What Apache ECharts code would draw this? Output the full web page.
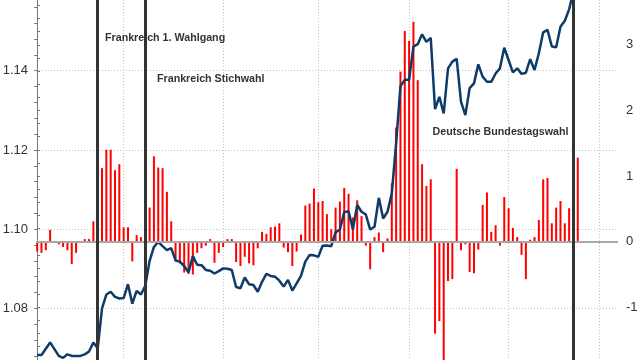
<!DOCTYPE html>
<html><head><meta charset="utf-8">
<script src="https://cdn.jsdelivr.net/npm/echarts@6/dist/echarts.min.js"></script>
<style>html,body{margin:0;padding:0;background:#fff}#c{width:640px;height:360px}</style>
</head><body><div id="c"></div>
<script>
// Trading-day index 0..125
const lineValues = [
 1.0682,1.0682,1.0698,1.0714,1.0697,1.0680,1.0675,1.0684,1.0680,1.0680,
 1.0680,1.0684,1.0691,1.0714,1.0699,1.0800,1.0835,1.0842,1.0829,1.0825,
 1.0826,1.0861,1.0812,1.0844,1.0835,1.0857,1.0920,1.0955,1.0968,1.0957,
 1.0947,1.0952,1.0921,1.0918,1.0907,1.0891,1.0932,1.0910,1.0909,1.0897,
 1.0895,1.0888,1.0894,1.0901,1.0900,1.0897,1.0854,1.0851,1.0878,1.0861,
 1.0859,1.0842,1.0867,1.0887,1.0882,1.0880,1.0870,1.0855,1.0872,1.0845,
 1.0863,1.0882,1.0918,1.0935,1.0934,1.0930,1.0958,1.0959,1.0957,1.0992,
 1.0999,1.1043,1.1045,1.1000,1.1061,1.1044,1.1037,1.0999,1.1006,1.1079,
 1.1027,1.1044,1.1090,1.1217,1.1361,1.1377,1.1377,1.1461,1.1467,1.1492,
 1.1473,1.1483,1.1303,1.1334,1.1292,1.1406,1.1423,1.1430,1.1322,1.1288,
 1.1356,1.1368,1.1416,1.1385,1.1372,1.1372,1.1393,1.1406,1.1458,1.1427,
 1.1396,1.1406,1.1392,1.1395,1.1429,1.1402,1.1444,1.1497,1.1503,1.1461,
 1.1459,1.1511,1.1526,1.1555,1.1600
];
const barValues = [
 -0.15,-0.17,-0.13,0.18,0.01,-0.04,-0.08,-0.13,-0.34,-0.17,
 -0.02,0.04,0.04,0.31,0.30,1.12,1.40,1.40,1.09,1.18,
 0.22,0.22,-0.30,0.10,0.07,0.33,0.52,1.30,1.13,1.12,
 0.76,0.31,-0.28,-0.33,-0.47,-0.49,-0.50,-0.17,-0.10,-0.06,
 0.04,-0.32,-0.17,-0.08,0.04,0.04,-0.31,-0.37,-0.23,-0.33,
 -0.36,-0.10,0.15,0.12,0.22,0.23,0.28,-0.09,-0.16,-0.37,
 -0.15,0.11,0.55,0.58,0.81,0.60,0.62,0.42,0.19,0.52,
 0.61,0.82,0.73,0.37,0.63,0.39,-0.06,-0.42,0.07,0.14,
 -0.16,0.05,0.89,1.74,2.59,3.21,3.06,3.35,2.46,1.18,
 0.85,0.95,-1.40,-1.21,-2.00,-0.60,-0.57,1.11,-0.13,-0.04,
 -0.46,-0.48,-0.12,0.56,0.75,0.15,0.25,-0.06,0.68,0.51,
 0.21,0.07,-0.20,-0.57,0.03,0.07,0.33,0.95,0.97,0.28,
 0.52,0.62,0.28,0.51,0.40,1.28
];
const eventIndex = [14, 25, 124];
const eventNames = ['Frankreich 1. Wahlgang', 'Frankreich Stichwahl', 'Deutsche Bundestagswahl'];
const monthStarts = [20, 43, 65, 86, 109, 130];
const leftMin = 1.06, leftMax = 1.16, leftStep = 0.02;
const rightMin = -2, rightMax = 4, rightStep = 1;

const chart = echarts.init(document.getElementById('c'), null, {renderer: 'canvas'});
const FONT = '"Liberation Sans", Arial, sans-serif';
const X_MIN = -0.266, X_MAX = 134.3;
const axisGray = '#777';

const option = {
  animation: false,
  backgroundColor: '#fff',
  grid: [
    {left: 36, right: 22, top: -8.5, height: 396.1, containLabel: false, outerBoundsMode: 'none'},
    {left: 36, right: 22, top: -20.9, height: 393.9, containLabel: false, outerBoundsMode: 'none'}
  ],
  xAxis: [
    {type: 'value', gridIndex: 0, min: X_MIN, max: X_MAX, show: false},
    {type: 'value', gridIndex: 1, min: X_MIN, max: X_MAX, show: false}
  ],
  yAxis: [
    {
      type: 'value', gridIndex: 0, position: 'left',
      min: leftMin, max: leftMax, interval: leftStep,
      axisLine: {show: true, lineStyle: {color: axisGray, width: 1}},
      axisTick: {show: true, length: 3, lineStyle: {color: axisGray}},
      minorTick: {show: true, splitNumber: 5, length: 3, lineStyle: {color: axisGray}},
      axisLabel: {show: true, formatter: v => v.toFixed(2), color: '#333', fontSize: 13, fontFamily: FONT, margin: 8, showMinLabel: false, showMaxLabel: false},
      splitLine: {show: true, lineStyle: {color: '#c4c4c4', width: 1, type: [1, 2]}},
      minorSplitLine: {show: false}
    },
    {
      type: 'value', gridIndex: 1, position: 'right',
      min: rightMin, max: rightMax, interval: rightStep,
      axisLine: {show: true, lineStyle: {color: axisGray, width: 1}},
      axisTick: {show: true, length: 3, lineStyle: {color: axisGray}},
      minorTick: {show: true, splitNumber: 5, length: 3, lineStyle: {color: axisGray}},
      axisLabel: {show: true, color: '#333', fontSize: 13, fontFamily: FONT, margin: 8, showMinLabel: false, showMaxLabel: false},
      splitLine: {show: false}
    }
  ],
  series: [
    {
      // vertical month gridlines, drawn beneath the bars
      type: 'line', xAxisIndex: 1, yAxisIndex: 1, data: [], z: 0, silent: true,
      markLine: {
        z: 0, silent: true, symbol: 'none', label: {show: false},
        lineStyle: {color: '#c4c4c4', width: 1, type: [1, 2]},
        data: monthStarts.map(m => ({xAxis: m}))
      }
    },
    {
      type: 'bar', xAxisIndex: 1, yAxisIndex: 1,
      data: barValues.map((v, i) => [i, v]),
      barWidth: 2,
      itemStyle: {color: '#ff0000'},
      z: 2,
      silent: true,
      markLine: {
        silent: true, symbol: 'none', label: {show: false},
        lineStyle: {color: '#a8a8a8', width: 2, type: 'solid'},
        data: [{yAxis: 0}]
      }
    },
    {
      type: 'line', xAxisIndex: 0, yAxisIndex: 0,
      data: lineValues.map((v, i) => [i, v]),
      showSymbol: false, symbol: 'none',
      lineStyle: {color: '#0f3b68', width: 2.5},
      z: 3,
      silent: true,
      markLine: {
        z: 6, silent: true, symbol: 'none', label: {show: false},
        lineStyle: {color: '#333', width: 3, type: 'solid'},
        data: eventIndex.map(e => ({xAxis: e}))
      }
    }
  ],
  graphic: [
    {type: 'text', x: 105, y: 37.9, z: 10, style: {text: eventNames[0], font: 'bold 10.7px ' + FONT, fill: '#333', verticalAlign: 'middle'}},
    {type: 'text', x: 157, y: 79.5, z: 10, style: {text: eventNames[1], font: 'bold 10.7px ' + FONT, fill: '#333', verticalAlign: 'middle'}},
    {type: 'text', x: 432.5, y: 132.2, z: 10, style: {text: eventNames[2], font: 'bold 10.7px ' + FONT, fill: '#333', verticalAlign: 'middle'}}
  ]
};
chart.setOption(option);
</script>
</body></html>
